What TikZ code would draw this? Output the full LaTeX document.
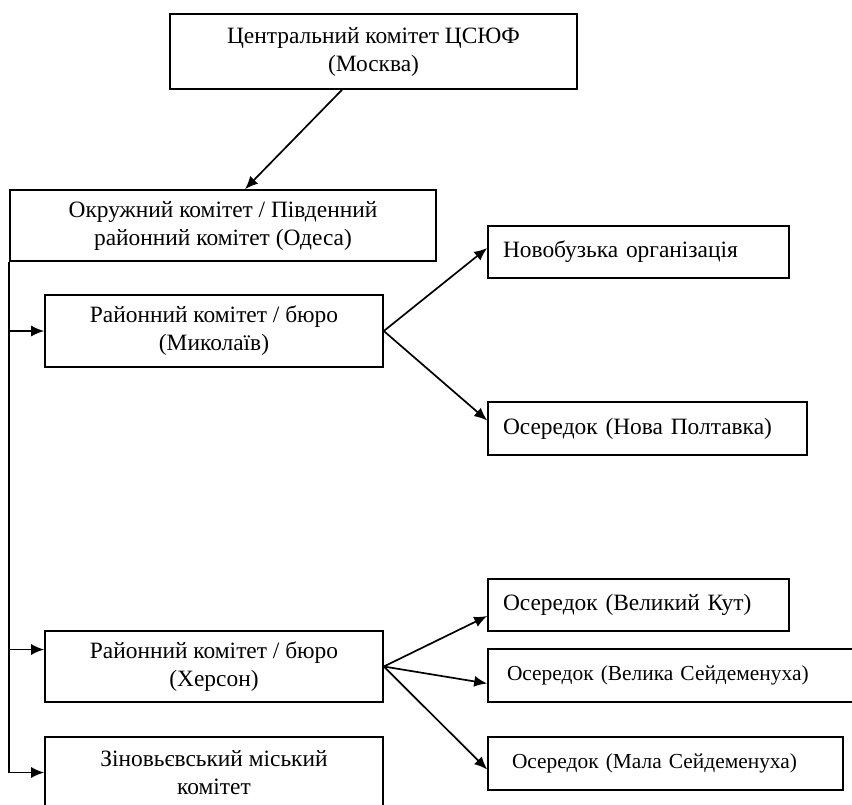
\documentclass[tikz,border=0pt]{standalone}
\usepackage{fontspec}
\setmainfont{Liberation Serif}
\usetikzlibrary{arrows.meta}

\begin{document}
\begin{tikzpicture}[x=1pt, y=-1pt,
        box/.style={draw, rectangle, line width=1.6pt, inner sep=0pt, align=center,
            font=\fontsize{23.4}{28}\selectfont},
        leaf/.style={box, inner xsep=15pt, align=left},
        small/.style={font=\fontsize{21.4}{26}\selectfont},
        link/.style={line width=1.7pt, -{Latex[length=13pt, width=11pt]}}]
        \useasboundingbox (0,0) rectangle (852,804);
        \node [box, minimum width=407pt, minimum height=75pt] (central) at (373.5,51.5) {Центральний комітет ЦСЮФ\\(Москва)};
        \node [box, minimum width=426pt, minimum height=71pt] (okrug) at (223,225.5) {Окружний комітет / Південний\\районний комітет (Одеса)};
        \node [box, minimum width=338pt, minimum height=72pt] (mykolaiv) at (214,331) {Районний комітет / бюро\\(Миколаїв)};
        \node [box, minimum width=338pt, minimum height=71pt] (kherson) at (214,666.5) {Районний комітет / бюро\\(Херсон)};
        \node [box, minimum width=338pt, minimum height=71pt] (zinov) at (214,772.5) {Зіновьєвський міський\\комітет};
        \node [leaf, text width=271pt, minimum height=52pt] (novobuzka) at (638.5,252) {Новобузька організація};
        \node [leaf, text width=289pt, minimum height=53pt] (poltavka) at (647.5,428.5) {Осередок (Нова Полтавка)};
        \node [leaf, text width=271pt, minimum height=52pt] (kut) at (638.5,605) {Осередок (Великий Кут)};
        \node [leaf, small, text width=342pt, minimum height=53pt] (velyka) at (674,675.5) {\hspace*{4pt}Осередок (Велика Сейдеменуха)};
        \node [leaf, small, text width=325pt, minimum height=53pt] (mala) at (665.5,763.5) {\hspace*{9pt}Осередок (Мала Сейдеменуха)};
        \coordinate (khersonin) at ([yshift=17pt]kherson.west);
        \draw [link] ([xshift=-31.5pt]central.south) -- ([xshift=22pt]okrug.north);
        \draw [line width=1.7pt] (okrug.south west) -- (okrug.south west |- zinov.west);
        \draw [link] (okrug.south west |- mykolaiv.west) -- (mykolaiv.west);
        \draw [link] (okrug.south west |- khersonin) -- (khersonin);
        \draw [link] (okrug.south west |- zinov.west) -- (zinov.west);
        \draw [link] (mykolaiv.east) -- ([yshift=4pt]novobuzka.west);
        \draw [link] (mykolaiv.east) -- ([yshift=8pt]poltavka.west);
        \draw [link] (kherson.east) -- ([yshift=-11pt]kut.west);
        \draw [link] (kherson.east) -- ([yshift=-8pt]velyka.west);
        \draw [link] (kherson.east) -- ([yshift=-6pt]mala.west);
    \end{tikzpicture}
\end{document}
